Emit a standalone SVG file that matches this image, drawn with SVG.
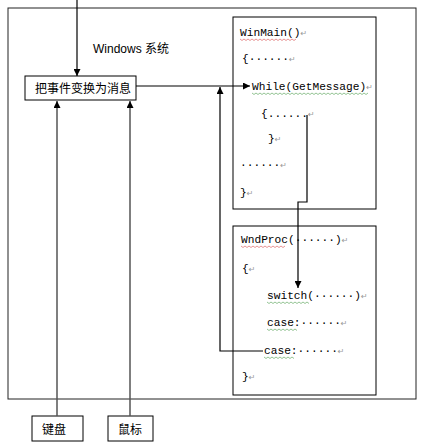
<svg xmlns="http://www.w3.org/2000/svg" width="426" height="446" viewBox="0 0 426 446">
<style>
.box{fill:#fff;stroke:#000;stroke-width:1}
.ln{fill:none;stroke:#000;stroke-width:1.2}
.gl{fill:none;stroke:#555;stroke-width:1.5}
.zh{font-family:"Liberation Sans","Noto Sans CJK SC",sans-serif;font-size:12px;fill:#000}
.code{font-family:"Liberation Mono","DejaVu Sans Mono",monospace;font-size:11.2px;fill:#000}
.pm{font-family:"DejaVu Sans",sans-serif;font-size:8px;fill:#999}
.wr{fill:none;stroke:#d66;stroke-width:0.7}
.wg{fill:none;stroke:#6a6;stroke-width:0.7}
</style>
<defs>
<marker id="ah" viewBox="0 0 10 10" refX="10" refY="5" markerWidth="7" markerHeight="7" markerUnits="userSpaceOnUse" orient="auto">
<path d="M0,0 L10,5 L0,10 z" fill="#000"/>
</marker>
</defs>
<rect x="0" y="0" width="426" height="446" fill="#fff"/>
<g id="system">
<rect x="8" y="8" width="408" height="391" fill="none" stroke="#222" stroke-width="1"/>
<text class="zh" x="93" y="53">Windows 系统</text>
</g>
<g id="convert">
<rect class="box" x="25" y="76" width="111" height="24"/>
<text class="zh" x="35" y="93">把事件变换为消息</text>
</g>
<g id="keyboard">
<rect class="box" x="32" y="416" width="51" height="25"/>
<text class="zh" x="42" y="434">键盘</text>
</g>
<g id="mouse">
<rect class="box" x="108" y="416" width="45" height="25"/>
<text class="zh" x="118" y="434">鼠标</text>
</g>
<g id="winmain">
<rect class="box" x="233" y="17" width="143" height="192"/>
<text class="code" x="240" y="36">WinMain()<tspan class="pm">↵</tspan></text>
<text class="code" x="242" y="62">{······<tspan class="pm">↵</tspan></text>
<text class="code" x="252" y="90">While(GetMessage)<tspan class="pm">↵</tspan></text>
<text class="code" x="261" y="117">{......<tspan class="pm">↵</tspan></text>
<text class="code" x="268" y="142">}<tspan class="pm">↵</tspan></text>
<text class="code" x="240" y="168">······<tspan class="pm">↵</tspan></text>
<text class="code" x="240" y="196">}<tspan class="pm">↵</tspan></text>
<path class="wr" d="M240,39 l2,1.5 l2,-1.5 l2,1.5 l2,-1.5 l2,1.5 l2,-1.5 l2,1.5 l2,-1.5 l2,1.5 l2,-1.5 l2,1.5 l2,-1.5 l2,1.5 l2,-1.5 l2,1.5 l2,-1.5 l2,1.5 l2,-1.5 l2,1.5 l2,-1.5 l2,1.5 l2,-1.5 l2,1.5 l2,-1.5 l2,1.5 l2,-1.5 l2,1.5 l2,-1.5"/>
<path class="wg" d="M252,93 l2,1.5 l2,-1.5 l2,1.5 l2,-1.5 l2,1.5 l2,-1.5 l2,1.5 l2,-1.5 l2,1.5 l2,-1.5 l2,1.5 l2,-1.5 l2,1.5 l2,-1.5 l2,1.5 l2,-1.5 l2,1.5 l2,-1.5 l2,1.5 l2,-1.5 l2,1.5 l2,-1.5 l2,1.5 l2,-1.5 l2,1.5 l2,-1.5 l2,1.5 l2,-1.5 l2,1.5 l2,-1.5 l2,1.5 l2,-1.5 l2,1.5 l2,-1.5 l2,1.5 l2,-1.5 l2,1.5 l2,-1.5 l2,1.5 l2,-1.5 l2,1.5 l2,-1.5 l2,1.5 l2,-1.5 l2,1.5 l2,-1.5 l2,1.5 l2,-1.5 l2,1.5 l2,-1.5 l2,1.5 l2,-1.5 l2,1.5 l2,-1.5 l2,1.5 l2,-1.5 l2,1.5 l2,-1.5"/>
</g>
<g id="wndproc">
<rect class="box" x="233" y="226" width="143" height="169"/>
<text class="code" x="241" y="243">WndProc(······)<tspan class="pm">↵</tspan></text>
<text class="code" x="242" y="272">{<tspan class="pm">↵</tspan></text>
<text class="code" x="267" y="299">switch(······)<tspan class="pm">↵</tspan></text>
<text class="code" x="267" y="326">case:······<tspan class="pm">↵</tspan></text>
<text class="code" x="264" y="354">case:······<tspan class="pm">↵</tspan></text>
<text class="code" x="242" y="380">}<tspan class="pm">↵</tspan></text>
<path class="wr" d="M241,246 l2,1.5 l2,-1.5 l2,1.5 l2,-1.5 l2,1.5 l2,-1.5 l2,1.5 l2,-1.5 l2,1.5 l2,-1.5 l2,1.5 l2,-1.5 l2,1.5 l2,-1.5 l2,1.5 l2,-1.5 l2,1.5 l2,-1.5 l2,1.5 l2,-1.5 l2,1.5 l2,-1.5"/>
<path class="wg" d="M267,302 l2,1.5 l2,-1.5 l2,1.5 l2,-1.5 l2,1.5 l2,-1.5 l2,1.5 l2,-1.5 l2,1.5 l2,-1.5 l2,1.5 l2,-1.5 l2,1.5 l2,-1.5 l2,1.5 l2,-1.5 l2,1.5 l2,-1.5 l2,1.5 l2,-1.5 l2,1.5"/>
<path class="wg" d="M267,329 l2,1.5 l2,-1.5 l2,1.5 l2,-1.5 l2,1.5 l2,-1.5 l2,1.5 l2,-1.5 l2,1.5 l2,-1.5 l2,1.5 l2,-1.5 l2,1.5 l2,-1.5 l2,1.5"/>
<path class="wg" d="M264,357 l2,1.5 l2,-1.5 l2,1.5 l2,-1.5 l2,1.5 l2,-1.5 l2,1.5 l2,-1.5 l2,1.5 l2,-1.5 l2,1.5 l2,-1.5 l2,1.5 l2,-1.5 l2,1.5"/>
</g>
<g id="connectors">
<path class="ln" d="M77,0 V76" marker-end="url(#ah)"/>
<path class="gl" d="M57,416 V101" marker-end="url(#ah)"/>
<path class="gl" d="M130,416 V101" marker-end="url(#ah)"/>
<path class="ln" d="M136,86 H250" marker-end="url(#ah)"/>
<path class="ln" d="M263,351 H220 V87" marker-end="url(#ah)"/>
<path class="ln" d="M307,115 V202 H298 V288" marker-end="url(#ah)"/>
</g>
</svg>
